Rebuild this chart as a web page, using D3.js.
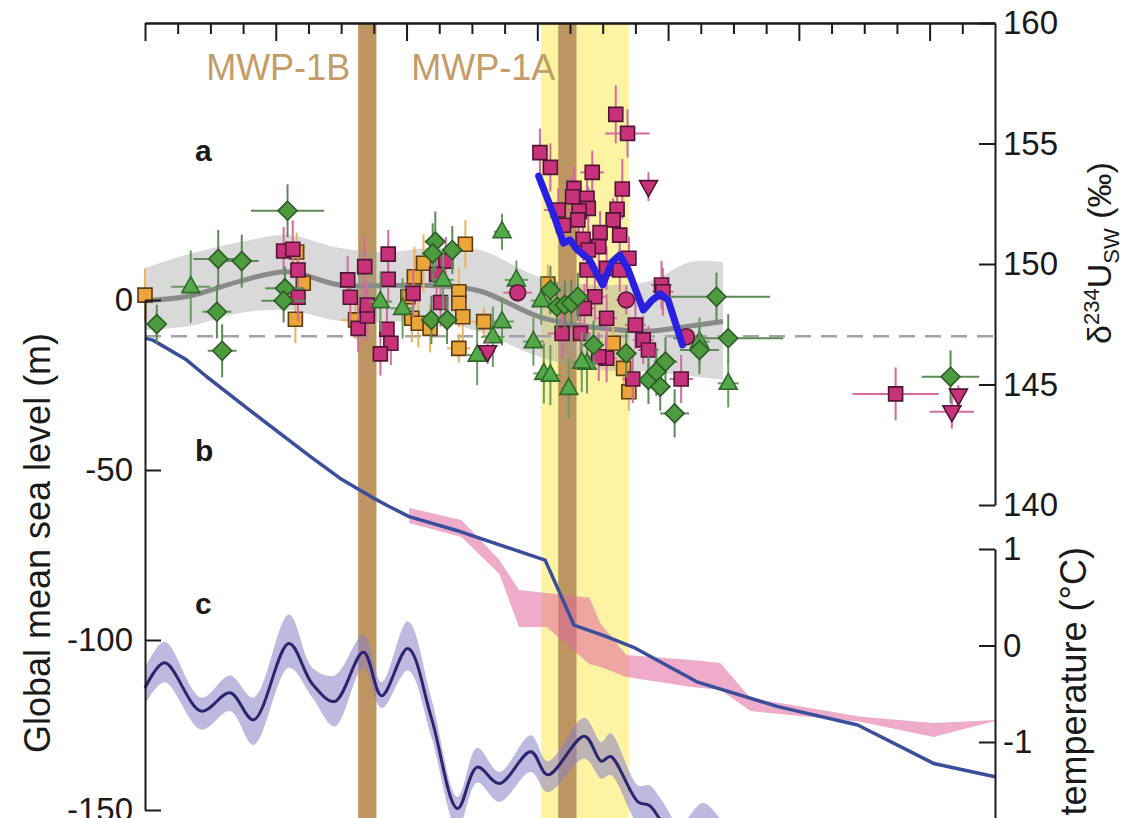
<!DOCTYPE html>
<html><head><meta charset="utf-8">
<script src="https://cdn.jsdelivr.net/npm/d3@7"></script>
<style>
body{margin:0;background:#fff}
svg{display:block}
text{font-family:"Liberation Sans",Arial,Helvetica,sans-serif;fill:#1a1a1a}
</style>
</head><body>
<svg id="c" width="1130" height="818"></svg>
<script>
// ---------------- DATA ----------------
const ageDomain = [0, 6.5];                 // time axis (kyr, relative; labels not shown in crop)
const majorTicks = [0, 1, 2, 3, 4, 5, 6];
const minorTicks = [0.25,0.5,0.75,1.25,1.5,1.75,2.25,2.5,2.75,3.25,3.5,3.75,4.25,4.5,4.75,5.25,5.5,5.75,6.25];
const u234Ticks = [140, 145, 150, 155, 160];
const seaLevelTicks = [-150, -100, -50, 0];
const tempTicks = [-1, 0, 1];

const mwpNames = ["MWP-1B", "MWP-1A"];
const mwpStart = [1.63, 3.16];
const mwpEnd = [1.77, 3.30];
const yellowBand = [3.03, 3.70];
const u234Modern = 147.0;

// panel a: smoothed d234U with uncertainty
const smoothT    = [0,0.34,0.73,1.09,1.49,1.87,2.18,2.56,3.02,3.48,3.86,4.17,4.42];
const smoothMean = [148.48,148.67,149.29,149.68,149.13,149.11,149.11,148.88,147.80,147.34,147.22,147.43,147.61];
const smoothHi   = [149.83,150.41,150.91,151.20,150.66,150.50,150.66,150.58,149.46,149.13,149.29,150.08,150.08];
const smoothLo   = [147.26,147.43,147.97,148.09,147.63,147.59,147.68,147.18,146.14,145.60,145.52,145.35,145.19];

// panel a: blue fit
const fitT = [3.01,3.12,3.20,3.25,3.30,3.40,3.50,3.57,3.63,3.69,3.81,3.88,3.94,4.00,4.11];
const fitU = [153.65,152.12,150.87,151.00,150.62,150.17,149.13,150.08,150.37,149.83,148.09,148.51,148.76,148.51,146.64];

// panel a: data points [age, d234U, ageErr, d234UErr]
const diamondsGreen = [
 [0.09,147.51,0.06,0.8],[0.56,150.21,0.19,1.2],[0.74,150.12,0.13,1.1],[0.55,148.02,0.11,1.1],
 [0.59,146.40,0.11,1.1],[1.09,152.21,0.28,1.1],[1.07,148.99,0.15,0.9],[1.06,148.48,0.17,0.9],
 [2.22,150.93,0.08,1.25],[2.20,150.44,0.08,1.25],[2.35,150.58,0.08,1.0],[2.19,147.68,0.08,1.0],
 [2.31,147.68,0.08,1.0],[3.10,148.92,0.08,1.0],[3.15,148.23,0.08,1.0],[3.21,148.30,0.08,1.0],
 [3.26,148.37,0.08,1.0],[3.31,148.64,0.08,1.0],[3.43,146.64,0.08,1.0],[3.68,146.29,0.08,1.0],
 [3.85,145.19,0.08,1.0],[3.94,144.91,0.08,1.0],[3.98,145.95,0.09,1.0],[3.91,145.53,0.08,1.0],
 [4.37,148.64,0.41,1.0],[4.24,146.43,0.15,1.0],[4.46,146.92,0.42,1.0],[4.05,143.80,0.11,1.0],
 [6.16,145.32,0.22,1.1]
];
const trianglesGreen = [
 [0.35,149.06,0.15,1.5],[1.80,148.44,0.09,1.25],[1.97,148.16,0.09,1.25],[2.28,149.34,0.08,1.25],
 [2.73,151.34,0.06,0.75],[2.73,147.61,0.09,1.0],[2.66,146.98,0.09,1.25],[2.54,146.22,0.08,1.25],
 [2.84,149.34,0.09,0.8],[2.97,146.78,0.08,1.0],[3.03,148.48,0.08,1.0],[3.05,145.46,0.08,1.25],
 [3.10,145.39,0.08,1.25],[3.24,144.84,0.06,1.25],[3.38,145.88,0.08,1.25],[3.34,145.93,0.08,1.25],
 [4.46,145.05,0.08,1.0],[4.24,146.78,0.08,1.0]
];
const squaresMagenta = [
 [1.06,150.54,0.05,1.0],[1.13,150.61,0.05,1.2],[1.17,149.75,0.05,0.9],[1.17,148.62,0.05,1.0],
 [1.55,149.34,0.05,1.0],[1.57,148.62,0.04,1.0],[1.68,149.89,0.05,1.25],[1.63,147.33,0.05,1.0],
 [1.70,147.84,0.05,1.0],[1.70,148.30,0.05,1.0],[1.86,150.41,0.05,1.0],[1.86,149.37,0.05,1.0],
 [1.85,147.29,0.05,1.0],[1.88,146.71,0.05,0.9],[1.80,146.27,0.05,0.9],[2.05,148.78,0.05,1.0],
 [2.30,150.12,0.05,1.0],[2.23,149.57,0.05,1.0],[2.26,148.40,0.05,1.0],
 [3.02,154.62,0.05,1.0],[3.10,154.01,0.06,1.0],[3.60,156.21,0.05,1.2],[3.69,155.42,0.17,1.0],
 [3.42,153.80,0.09,0.9],[3.65,153.11,0.06,1.25],[3.28,153.14,0.06,0.9],[3.27,152.79,0.06,0.9],
 [3.38,152.73,0.06,0.9],[3.39,152.31,0.06,0.9],[3.16,152.24,0.11,0.9],[3.32,152.20,0.06,0.9],
 [3.61,152.27,0.06,0.9],[3.31,151.83,0.06,0.9],[3.20,151.61,0.06,0.9],[3.58,151.83,0.06,0.9],
 [3.63,151.20,0.06,0.9],[3.48,151.30,0.06,0.9],[3.35,151.03,0.06,0.9],[3.47,150.72,0.06,0.9],
 [3.39,150.58,0.06,0.9],[3.70,150.24,0.06,0.9],[3.38,149.75,0.06,0.9],[3.53,149.82,0.06,0.9],
 [3.63,149.75,0.06,0.9],[3.19,147.12,0.11,1.0],[3.33,147.12,0.08,1.0],[3.44,148.64,0.08,1.0],
 [3.36,148.16,0.08,1.0],[3.53,147.75,0.08,1.0],[3.75,147.47,0.08,1.0],[3.81,146.85,0.08,1.0],
 [3.85,146.43,0.08,1.0],[3.53,146.09,0.08,1.0],[3.47,146.15,0.08,1.0],[3.73,145.23,0.08,1.0],
 [4.10,145.23,0.09,1.0],[3.95,149.13,0.08,1.0],[3.96,148.85,0.08,1.0],[5.74,144.61,0.33,1.1]
];
const squaresOrange = [
 [0.00,148.71,0.02,1.1],[1.16,150.50,0.04,0.8],[1.21,149.20,0.05,0.9],[1.15,147.71,0.05,1.0],
 [1.61,147.68,0.11,0.8],[2.06,149.47,0.06,1.25],[2.13,150.03,0.06,1.2],[2.01,148.64,0.06,1.0],
 [2.04,147.75,0.06,1.0],[2.09,147.54,0.06,1.0],[2.18,147.33,0.06,1.0],[2.45,150.82,0.05,1.0],
 [2.40,148.85,0.05,1.0],[2.40,148.37,0.05,1.0],[2.43,147.81,0.05,1.0],[2.59,147.61,0.09,0.6],
 [2.40,146.50,0.09,0.6],[3.08,149.17,0.06,0.8],[3.58,146.71,0.06,1.0],[3.66,145.67,0.06,1.0],
 [3.70,144.70,0.06,0.8]
];
const downTrianglesMagenta = [
 [2.62,146.36,0.06,0.5],[3.85,153.21,0.04,0.6],[6.22,144.56,0.04,0.4],[6.17,143.87,0.17,0.7]
];
const circlesMagenta = [
 [2.85,148.81,0.11,0.4],[3.68,148.51,0.08,0.6],[4.14,146.98,0.06,0.35]
];

// panel b: global mean sea level (m)
const slT = [0,0.06,0.31,0.47,0.80,1.26,1.49,1.73,1.87,2.02,2.41,3.06,3.15,3.28,3.53,3.75,4.22,4.84,5.45,6.03,6.50];
const slM = [-11.2,-11.8,-17.4,-22.5,-32.4,-45.9,-52.4,-57.9,-60.8,-63.7,-68.1,-76.5,-84.3,-95.6,-99.0,-102.4,-112.3,-119.6,-125.0,-136.3,-140.2];
const pinkT  = [2.02,2.42,2.71,2.86,3.07,3.40,3.48,3.68,4.18,4.40,4.63,5.48,6.03,6.50];
const pinkHi = [-61.2,-64.7,-76.5,-85.3,-86.2,-87.6,-95.0,-104.4,-105.9,-106.8,-117.1,-122.6,-124.4,-123.5];
const pinkLo = [-65.6,-69.7,-80.6,-96.2,-96.2,-107.1,-107.9,-110.9,-113.8,-114.7,-120.9,-124.1,-128.5,-123.8];

// panel c: temperature (°C)
const tempT  = [0,0.15,0.43,0.65,0.83,1.10,1.28,1.45,1.67,1.81,2.01,2.19,2.39,2.54,2.71,2.95,3.08,3.36,3.49,3.56,3.77,3.86,3.95,4.09,4.27,4.47];
const tempM  = [-0.44,-0.18,-0.68,-0.49,-0.77,0.02,-0.40,-0.58,-0.07,-0.52,-0.03,-0.75,-1.69,-1.26,-1.43,-1.10,-1.34,-0.94,-1.20,-1.15,-1.62,-1.66,-1.82,-2.00,-1.83,-2.12];
const tempHi = [-0.23,0.04,-0.54,-0.31,-0.54,0.32,-0.23,-0.31,0.11,-0.38,0.25,-0.55,-1.57,-1.06,-1.31,-0.93,-1.20,-0.75,-1.00,-0.91,-1.45,-1.45,-1.60,-1.85,-1.63,-1.95];
const tempLo = [-0.61,-0.38,-0.87,-0.68,-1.03,-0.23,-0.54,-0.84,-0.23,-0.65,-0.26,-0.95,-1.90,-1.42,-1.62,-1.31,-1.52,-1.17,-1.38,-1.34,-1.85,-1.90,-2.05,-2.20,-2.05,-2.30];

// ---------------- DRAW ----------------
const W = 1130, H = 818;
const svg = d3.select("#c");
const x  = d3.scaleLinear().domain(ageDomain).range([145, 995]);
const yU = d3.scaleLinear().domain([140, 160]).range([505, 23]);
const ySL = d3.scaleLinear().domain([-150, 0]).range([810, 300]);
const yT = d3.scaleLinear().domain([-2, 1]).range([838.5, 549]);
const curve = d3.curveCatmullRom.alpha(0.5);

// background bands
svg.append("rect").attr("x", x(yellowBand[0])).attr("y", 23)
  .attr("width", x(yellowBand[1]) - x(yellowBand[0])).attr("height", H - 23).attr("fill", "#fdf4a3");
svg.selectAll("rect.mwp").data(mwpStart).enter().append("rect").attr("class","mwp")
  .attr("x", d => x(d)).attr("y", 23)
  .attr("width", (d,i) => x(mwpEnd[i]) - x(d)).attr("height", H - 23).attr("fill", "#bd9560");

// uncertainty bands
const idx = a => a.map((_, i) => i);
svg.append("path").datum(idx(smoothT))
  .attr("d", d3.area().x(i => x(smoothT[i])).y0(i => yU(smoothLo[i])).y1(i => yU(smoothHi[i])).curve(curve))
  .attr("fill", "#9a9a9a").attr("fill-opacity", 0.38);
svg.append("path").datum(idx(pinkT))
  .attr("d", d3.area().x(i => x(pinkT[i])).y0(i => ySL(pinkLo[i])).y1(i => ySL(pinkHi[i])))
  .attr("fill", "#e2679f").attr("fill-opacity", 0.55);
svg.append("path").datum(idx(tempT))
  .attr("d", d3.area().x(i => x(tempT[i])).y0(i => yT(tempLo[i])).y1(i => yT(tempHi[i])).curve(curve))
  .attr("fill", "#8b80c6").attr("fill-opacity", 0.55);

// lines
svg.append("line").attr("x1", x(ageDomain[0])).attr("x2", x(ageDomain[1]))
  .attr("y1", yU(u234Modern)).attr("y2", yU(u234Modern))
  .attr("stroke", "#a3a3a3").attr("stroke-width", 2.5).attr("stroke-dasharray", "16,10");
svg.append("path").datum(idx(smoothT))
  .attr("d", d3.line().x(i => x(smoothT[i])).y(i => yU(smoothMean[i])).curve(curve))
  .attr("fill", "none").attr("stroke", "#8a8a8a").attr("stroke-width", 5);
svg.append("path").datum(idx(slT))
  .attr("d", d3.line().x(i => x(slT[i])).y(i => ySL(slM[i])))
  .attr("fill", "none").attr("stroke", "#3a4e9b").attr("stroke-width", 3.5).attr("stroke-linejoin","round");
svg.append("path").datum(idx(tempT))
  .attr("d", d3.line().x(i => x(tempT[i])).y(i => yT(tempM[i])).curve(curve))
  .attr("fill", "none").attr("stroke", "#2b256f").attr("stroke-width", 3);

// data points
const shapes = {
  square: "M-7,-7h14v14h-14z",
  diamond: "M0,-9.5L9.5,0L0,9.5L-9.5,0Z",
  up: "M0,-10L9,6L-9,6Z",
  down: "M0,10L9,-6L-9,-6Z",
  circle: d3.symbol(d3.symbolCircle, 200)()
};
function series(data, shape, fill, stroke, errColor) {
  const g = svg.append("g");
  const e = g.append("g").attr("stroke", errColor).attr("stroke-width", 2);
  e.selectAll("line.v").data(data).enter().append("line").attr("class","v")
    .attr("x1", d => x(d[0])).attr("x2", d => x(d[0]))
    .attr("y1", d => yU(d[1] - d[3])).attr("y2", d => yU(d[1] + d[3]));
  e.selectAll("line.h").data(data).enter().append("line").attr("class","h")
    .attr("y1", d => yU(d[1])).attr("y2", d => yU(d[1]))
    .attr("x1", d => x(d[0] - d[2])).attr("x2", d => x(d[0] + d[2]));
  g.selectAll("path").data(data).enter().append("path")
    .attr("transform", d => `translate(${x(d[0])},${yU(d[1])})`)
    .attr("d", shapes[shape]).attr("fill", fill).attr("stroke", stroke).attr("stroke-width", 1.6);
}
series(squaresOrange, "square", "#eca53a", "#5a3d12", "#ebb45c");
series(squaresMagenta, "square", "#c8327a", "#4f1634", "#d46b9e");
series(trianglesGreen, "up", "#54a94a", "#2f6a2a", "#6c9a62");
series(diamondsGreen, "diamond", "#4d9a3f", "#2c5a26", "#5e8a58");
series(downTrianglesMagenta, "down", "#c8327a", "#4f1634", "#d46b9e");
series(circlesMagenta, "circle", "#c8327a", "#4f1634", "#d46b9e");

// blue fit line on top
svg.append("path").datum(idx(fitT))
  .attr("d", d3.line().x(i => x(fitT[i])).y(i => yU(fitU[i])))
  .attr("fill", "none").attr("stroke", "#2a20e2").attr("stroke-width", 7)
  .attr("stroke-linejoin", "round").attr("stroke-linecap", "round");

// ---------------- AXES ----------------
function styleAxis(g, fs) {
  g.selectAll(".domain").attr("stroke", "#1a1a1a").attr("stroke-width", 2);
  g.selectAll(".tick line").attr("stroke", "#1a1a1a").attr("stroke-width", 2);
  g.selectAll(".tick text").attr("font-size", fs).attr("fill", "#1a1a1a")
    .attr("font-family", '"Liberation Sans",Arial,sans-serif');
}
svg.append("g").attr("transform", "translate(0,23)")
  .call(d3.axisBottom(x).tickValues(minorTicks).tickSize(11).tickSizeOuter(0).tickFormat(""))
  .call(g => styleAxis(g, 0));
svg.append("g").attr("transform", "translate(0,23)")
  .call(d3.axisBottom(x).tickValues(majorTicks).tickSize(18).tickSizeOuter(0).tickFormat(""))
  .call(g => styleAxis(g, 0));

svg.append("g").attr("transform", "translate(995,0)")
  .call(d3.axisRight(yU).tickValues(u234Ticks).tickSizeInner(-16).tickSizeOuter(0).tickPadding(8).tickFormat(d => String(d)))
  .call(g => styleAxis(g, 33));
svg.append("g").attr("transform", "translate(995,0)")
  .call(d3.axisRight(yT).tickValues(tempTicks).tickSizeInner(-16).tickSizeOuter(0).tickPadding(8).tickFormat(d => String(d)))
  .call(g => styleAxis(g, 33));
svg.append("g").attr("transform", "translate(145,0)")
  .call(d3.axisLeft(ySL).tickValues(seaLevelTicks).tickSizeInner(-16).tickSizeOuter(0).tickPadding(12).tickFormat(d => String(d)))
  .call(g => styleAxis(g, 33));

// axis titles
svg.append("text").attr("transform", "translate(37,543) rotate(-90)")
  .attr("text-anchor", "middle").attr("dy", "0.35em").attr("font-size", 36)
  .text("Global mean sea level (m)");
const ut = svg.append("text").attr("transform", "translate(1099,253) rotate(-90)")
  .attr("text-anchor", "middle").attr("font-size", 34);
ut.append("tspan").attr("dy", "0.35em").text("δ");
ut.append("tspan").attr("dy", -12).attr("font-size", 22).text("234");
ut.append("tspan").attr("dy", 12).text("U");
ut.append("tspan").attr("dy", 8).attr("font-size", 22).text("SW");
ut.append("tspan").attr("dy", -8).text(" (‰)");
svg.append("text").attr("transform", "translate(1073,547) rotate(-90)")
  .attr("text-anchor", "end").attr("dy", "0.35em").attr("font-size", 36)
  .text("temperature (°C)");

// panel letters
const panelLetters = ["a", "b", "c"];
const panelY = [161, 461, 614];
svg.selectAll("text.pl").data(panelLetters).enter().append("text").attr("class","pl")
  .attr("x", 195).attr("y", (d,i) => panelY[i]).attr("font-size", 30).attr("font-weight", "bold").text(d => d);

// MWP labels
const mwpGap = [8, 3];
svg.selectAll("text.mwp").data(mwpNames).enter().append("text").attr("class","mwp")
  .attr("x", (d,i) => x(mwpStart[i]) - mwpGap[i]).attr("y", 80)
  .attr("text-anchor", "end").attr("font-size", 36).style("fill", "#c49c68").text(d => d);
</script>
</body></html>
